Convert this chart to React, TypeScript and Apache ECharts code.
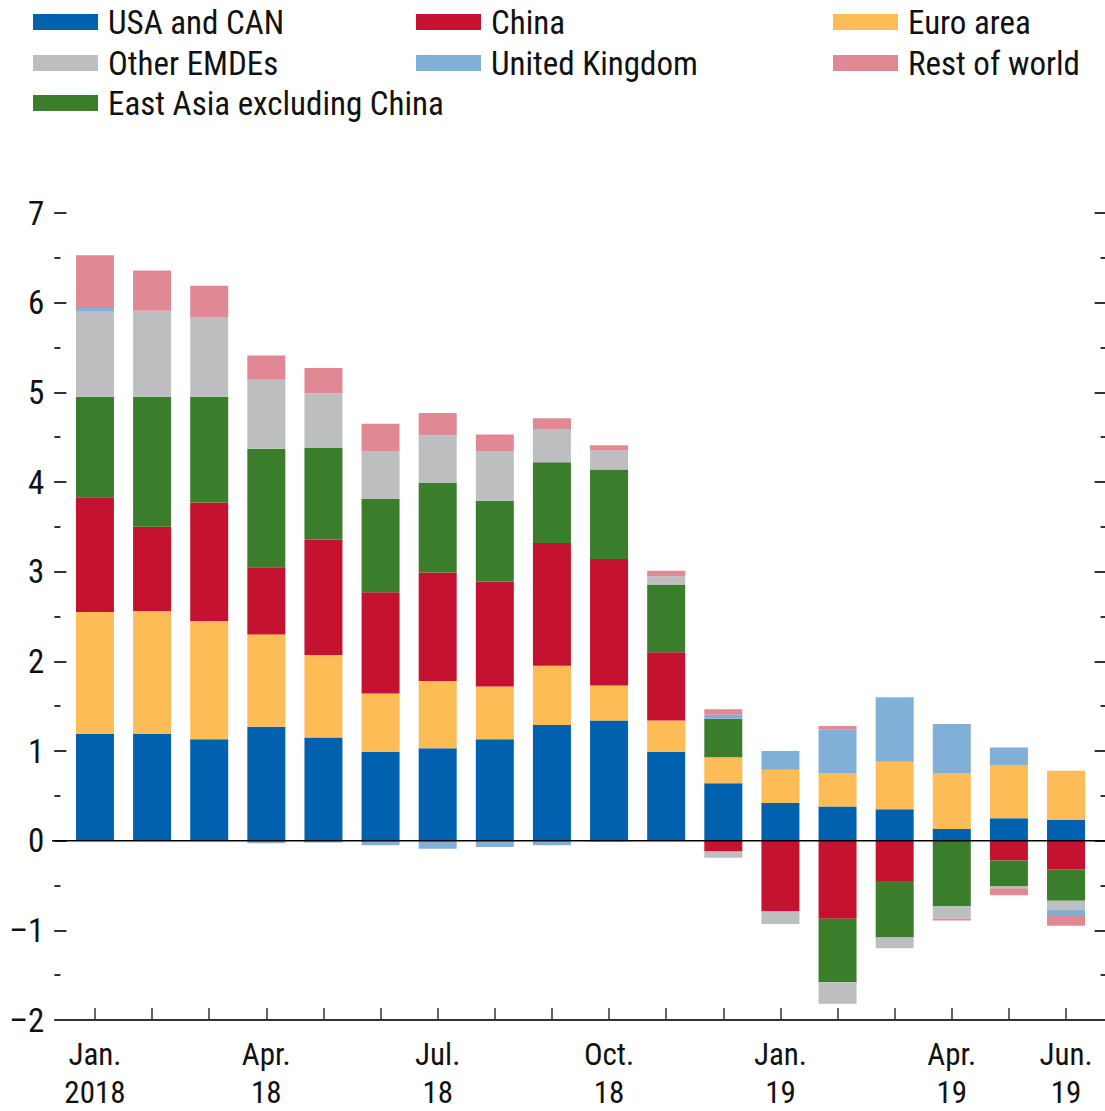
import React, { useEffect, useRef } from "react";
import * as echarts from "echarts";

const months = [
  "Jan.\n2018", "Feb.\n18", "Mar.\n18", "Apr.\n18", "May\n18", "Jun.\n18",
  "Jul.\n18", "Aug.\n18", "Sep.\n18", "Oct.\n18", "Nov.\n18", "Dec.\n18",
  "Jan.\n19", "Feb.\n19", "Mar.\n19", "Apr.\n19", "May\n19", "Jun.\n19",
];
const shownLabels = [0, 3, 6, 9, 12, 15, 17];

const usaCan = [1.19, 1.19, 1.13, 1.27, 1.15, 0.99, 1.03, 1.13, 1.29, 1.34, 0.99, 0.64, 0.42, 0.38, 0.35, 0.13, 0.25, 0.23];
const euroArea = [1.36, 1.37, 1.32, 1.03, 0.92, 0.65, 0.75, 0.59, 0.66, 0.39, 0.35, 0.29, 0.37, 0.37, 0.53, 0.62, 0.59, 0.55];
const china = [1.28, 0.94, 1.32, 0.75, 1.29, 1.13, 1.21, 1.17, 1.37, 1.41, 0.76, -0.12, -0.79, -0.87, -0.45, 0, -0.22, -0.32];
const eastAsia = [1.12, 1.45, 1.18, 1.32, 1.02, 1.04, 1.0, 0.9, 0.9, 1.0, 0.75, 0.43, 0, -0.71, -0.63, -0.73, -0.29, -0.35];
const otherEmdes = [0.95, 0.96, 0.89, 0.77, 0.61, 0.53, 0.53, 0.55, 0.37, 0.21, 0.1, -0.07, -0.14, -0.24, -0.12, -0.14, -0.02, -0.1];
const unitedKingdom = [0.04, 0, 0, -0.03, -0.02, -0.05, -0.09, -0.07, -0.05, -0.01, 0, 0.045, 0.21, 0.49, 0.72, 0.55, 0.2, -0.06];
const restOfWorld = [0.59, 0.45, 0.35, 0.27, 0.28, 0.31, 0.25, 0.19, 0.12, 0.06, 0.06, 0.06, 0, 0.04, 0, -0.02, -0.08, -0.12];

const yTicks = { min: -2, max: 7, interval: 1, minorInterval: 0.5 };

const FONT = "'Liberation Sans Narrow', 'Arial Narrow', 'Roboto Condensed', Roboto, 'DejaVu Sans Condensed', sans-serif";

const seriesDefs = [
  { name: "USA and CAN", data: usaCan, color: "#0061AF" },
  { name: "Euro area", data: euroArea, color: "#FDBC55" },
  { name: "China", data: china, color: "#C41230" },
  { name: "East Asia excluding China", data: eastAsia, color: "#3A7D2B" },
  { name: "Other EMDEs", data: otherEmdes, color: "#BDBEC0" },
  { name: "United Kingdom", data: unitedKingdom, color: "#80B0D8" },
  { name: "Rest of world", data: restOfWorld, color: "#E08893" },
];

const legendLayout = [
  { name: "USA and CAN", left: 33, top: 5 },
  { name: "China", left: 416, top: 5 },
  { name: "Euro area", left: 833, top: 5 },
  { name: "Other EMDEs", left: 33, top: 46 },
  { name: "United Kingdom", left: 416, top: 46 },
  { name: "Rest of world", left: 833, top: 46 },
  { name: "East Asia excluding China", left: 33, top: 86 },
];

export default function App() {
  const ref = useRef<HTMLDivElement>(null);
  useEffect(() => {
    document.body.style.margin = "0";
    if (!ref.current) return;
    const chart = echarts.init(ref.current, null, { renderer: "svg" });
    const axisColor = "#333";
    const yBase = { type: "value", min: yTicks.min, max: yTicks.max, splitLine: { show: false }, axisLine: { show: false } };
    chart.setOption({
      animation: false,
      textStyle: { fontFamily: FONT },
      legend: legendLayout.map((l) => ({
        data: [l.name],
        left: l.left,
        top: l.top,
        padding: 0,
        itemWidth: 65,
        itemHeight: 16,
        icon: "rect",
        selectedMode: false,
        textStyle: { fontFamily: FONT, fontSize: 33, color: "#111", lineHeight: 34, padding: [0, 0, 0, 5] },
      })),
      grid: { left: 66.4, right: 10.4, top: 213, bottom: 91 },
      xAxis: {
        type: "category",
        position: "bottom",
        data: months,
        axisLine: { show: true, onZero: false, lineStyle: { color: axisColor, width: 2 } },
        axisTick: { show: true, inside: true, length: 12, alignWithLabel: true, interval: 0, lineStyle: { color: axisColor, width: 1.5 } },
        axisLabel: {
          interval: 0,
          margin: 15,
          fontFamily: FONT,
          fontSize: 31,
          lineHeight: 38,
          color: "#111",
          formatter: (v: string, i: number) => (shownLabels.includes(i) ? v : ""),
        },
      },
      yAxis: [
        {
          ...yBase,
          position: "left",
          interval: yTicks.interval,
          axisTick: { show: true, length: 12, lineStyle: { color: axisColor, width: 2 } },
          axisLabel: {
            margin: 22,
            fontFamily: FONT,
            fontSize: 33,
            color: "#111",
            formatter: (v: number) => (v < 0 ? "\u2013" + Math.abs(v) : String(v)),
          },
        },
        {
          ...yBase,
          position: "left",
          offset: 6,
          interval: yTicks.minorInterval,
          axisTick: { show: true, length: 6, lineStyle: { color: axisColor, width: 2 } },
          axisLabel: { show: false },
        },
        {
          ...yBase,
          position: "right",
          interval: yTicks.interval,
          axisTick: { show: true, length: 12, lineStyle: { color: axisColor, width: 2 } },
          axisLabel: { show: false },
        },
        {
          ...yBase,
          position: "right",
          offset: 6,
          interval: yTicks.minorInterval,
          axisTick: { show: true, length: 6, lineStyle: { color: axisColor, width: 2 } },
          axisLabel: { show: false },
        },
      ],
      series: seriesDefs.map((s) => ({
        name: s.name,
        type: "bar",
        stack: "total",
        yAxisIndex: 0,
        barWidth: 38,
        data: s.data,
        itemStyle: { color: s.color },
      })),
    });
    const y0 = chart.convertToPixel({ yAxisIndex: 0 }, 0) as number;
    const yMin = chart.convertToPixel({ yAxisIndex: 0 }, yTicks.min) as number;
    chart.setOption({
      graphic: [
        { type: "line", z: 100, shape: { x1: 52, y1: y0, x2: 1105, y2: y0 }, style: { stroke: "#000", lineWidth: 1.5 } },
        { type: "line", z: 100, shape: { x1: 58, y1: yMin, x2: 1105, y2: yMin }, style: { stroke: axisColor, lineWidth: 2 } },
      ],
    });
    return () => chart.dispose();
  }, []);
  return <div ref={ref} style={{ width: 1105, height: 1111 }} />;
}
